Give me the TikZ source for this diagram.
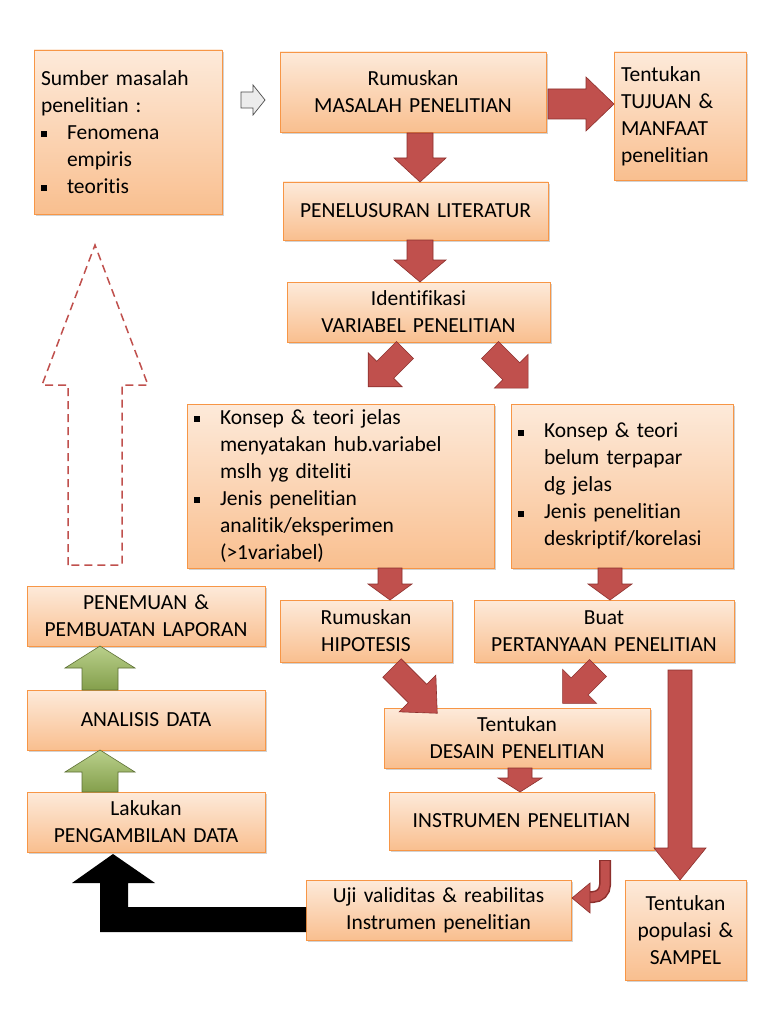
\documentclass[tikz,border=0pt]{standalone}
\usepackage{fontspec}
\setmainfont{Carlito}[Ligatures=NoCommon]
\usetikzlibrary{shadows}
\definecolor{bx}{HTML}{F79646}
\definecolor{bt}{HTML}{FDEADA}
\definecolor{bb}{HTML}{F9BF8F}
\definecolor{ar}{HTML}{C0504D}
\definecolor{ard}{HTML}{8C2F2C}
\definecolor{gr}{HTML}{9BBB59}
\newcommand\bul{\makebox[26pt][l]{\rule[2pt]{6pt}{6pt}}}
\newcommand\ind{\hspace*{26pt}}
% \barr{style}{x}{y}{angle}{len}{sw}{hw}{hl}
\newcommand\barr[8]{\begin{scope}[shift={(#2,#3)},rotate=#4]
\path[#1] (0,-#6)--(#5-#8,-#6)--(#5-#8,-#7)--(#5,0)--(#5-#8,#7)--(#5-#8,#6)--(0,#6)--cycle;
\end{scope}}
\begin{document}
\begin{tikzpicture}[x=1pt,y=-1pt,
 box/.style={draw=bx,line width=0.8pt,top color=bt,bottom color=bb,
   drop shadow={opacity=0.35,shadow xshift=2pt,shadow yshift=-2pt},
   font=\fontsize{21.5}{27}\selectfont,align=center,inner sep=3pt},
 red/.style={fill=ar,draw=ard,line width=0.6pt},
 green/.style={top color=gr!70!white,bottom color=gr!85!black,draw=gr!60!black,line width=0.6pt}]
\useasboundingbox (0,0) rectangle (768,1024);
\fill[white] (0,0) rectangle (768,1024);
\newcommand\bx[7][center]{\node[box,align=#1,minimum width=#5-#3,minimum height=#6-#4,text width=#5-#3-14] (#2) at ({(#3+#5)/2},{(#4+#6)/2}) {#7};}
\bx[left]{sumber}{34}{50}{222}{214}{Sumber masalah\\penelitian :\\\bul Fenomena\\\ind empiris\\\bul teoritis\\[2pt]}
\bx{rumus}{280}{52}{546}{132}{Rumuskan\\MASALAH PENELITIAN}
\bx[left]{tujuan}{614}{52}{746}{180}{Tentukan\\TUJUAN \&\\MANFAAT\\penelitian}
\bx{lit}{283}{182}{548}{240}{PENELUSURAN LITERATUR}
\bx{ident}{287}{282}{550}{342}{Identifikasi\\VARIABEL PENELITIAN}
\bx[left]{konl}{187}{404}{494}{568}{\bul Konsep \& teori jelas\\\ind menyatakan hub.variabel\\\ind mslh yg diteliti\\\bul Jenis penelitian\\\ind analitik/eksperimen\\\ind (>1variabel)}
\bx[left]{konr}{511}{404}{733}{568}{\bul Konsep \& teori\\\ind belum terpapar\\\ind dg jelas\\\bul Jenis penelitian\\\ind deskriptif/korelasi}
\bx{hipo}{280}{600}{452}{662}{Rumuskan\\HIPOTESIS}
\bx{tanya}{474}{600}{734}{662}{Buat\\PERTANYAAN PENELITIAN}
\bx{desain}{384}{708}{650}{768}{Tentukan\\DESAIN PENELITIAN}
\bx{instr}{389}{792}{654}{850}{INSTRUMEN PENELITIAN}
\bx{uji}{306}{880}{571}{940}{Uji validitas \& reabilitas\\Instrumen penelitian}
\bx{pop}{625}{880}{746}{980}{Tentukan\\populasi \&\\SAMPEL}
\bx{temu}{27}{586}{265}{646}{PENEMUAN \&\\PEMBUATAN LAPORAN}
\bx{anal}{27}{690}{265}{750}{ANALISIS DATA}
\bx{ambil}{27}{792}{265}{852}{Lakukan\\PENGAMBILAN DATA}
% arrows
\barr{red}{548}{104}{0}{66}{15}{27}{28}
\barr{red}{420}{133}{-90}{49}{13}{26}{24}
\barr{red}{420}{240}{-90}{42}{13}{26}{22}
\barr{red}{405}{350}{-135}{52}{12}{24}{24}
\barr{red}{490}{350}{-45}{54}{12}{24}{24}
\barr{red}{390}{568}{-90}{32}{12}{22}{16}
\barr{red}{610}{568}{-90}{32}{12}{22}{16}
\barr{red}{392}{668}{-45}{64}{13}{26}{28}
\barr{red}{598}{668}{-135}{50}{12}{24}{24}
\barr{red}{520}{768}{-90}{24}{12}{22}{14}
\barr{red}{680}{670}{-90}{210}{12}{26}{32}
\draw[ard,line width=12pt] (605,860) -- (605,885) arc[start angle=0,end angle=90,radius=12] -- (588,897);
\draw[ar,line width=9pt] (605,861) -- (605,885) arc[start angle=0,end angle=90,radius=12] -- (588,897);
\path[red] (590,883) -- (572,898) -- (590,913) -- cycle;
\fill[black] (306,907)--(128,907)--(128,883)--(155,883)--(113,854)--(72,883)--(100,883)--(100,932)--(306,932)--cycle;
\barr{green}{100}{690}{90}{44}{18}{35}{22}
\barr{green}{100}{792}{90}{42}{18}{35}{22}
\barr{draw=ar,dashed,line width=1.5pt,dash pattern=on 8pt off 5pt}{95}{565}{90}{320}{27}{53}{140}
\barr{fill=gray!15,draw=black!70,line width=0.7pt}{241}{100}{0}{24}{8}{15}{12}
\end{tikzpicture}
\end{document}
